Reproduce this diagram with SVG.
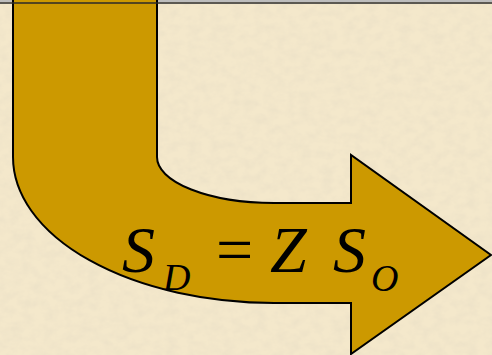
<svg xmlns="http://www.w3.org/2000/svg" width="492" height="355" viewBox="0 0 492 355">
<defs>
<filter id="paper" x="0" y="0" width="100%" height="100%">
<feTurbulence type="fractalNoise" baseFrequency="0.09 0.12" numOctaves="3" seed="7" result="n"/>
<feColorMatrix in="n" type="matrix" values="0 0 0 0 0.86  0 0 0 0 0.77  0 0 0 0 0.58  0 0 0 -2.2 1.45" result="c"/>
<feComposite in="c" in2="SourceGraphic" operator="in"/>
</filter>
<style>
.arrow{fill:#CC9900;stroke:#000;stroke-width:2;stroke-linejoin:miter}
.math{font-family:"Liberation Serif","Times New Roman",serif;fill:#000}
.it{font-style:italic}
</style>
</defs>
<g id="background">
<rect x="0" y="0" width="492" height="355" fill="#F4E8CB"/>
<rect x="0" y="0" width="492" height="355" fill="#F4E8CB" filter="url(#paper)"/>
<rect x="0" y="0" width="492" height="2" fill="#BDBDBD"/>
</g>
<g id="bent-arrow">
<path class="arrow" d="M13,-2 L13,157 A261,146 0 0 0 274,303 L351,303 L351,354 L491,255 L351,155 L351,203 L274,203 A117,46 0 0 1 157,157 L157,-2 Z"/>
</g>
<line x1="0" y1="3" x2="492" y2="3" stroke="#2A2A2A" stroke-width="1.6"/>
<g id="formula" class="math">
<text x="122" y="272" font-size="66" class="it">S</text>
<text x="163" y="290" font-size="38" class="it">D</text>
<text x="216" y="272" font-size="66">=</text>
<text x="270" y="272" font-size="66" class="it">Z</text>
<text x="333" y="272" font-size="66" class="it">S</text>
<text x="371" y="291" font-size="38" class="it">O</text>
</g>
</svg>
